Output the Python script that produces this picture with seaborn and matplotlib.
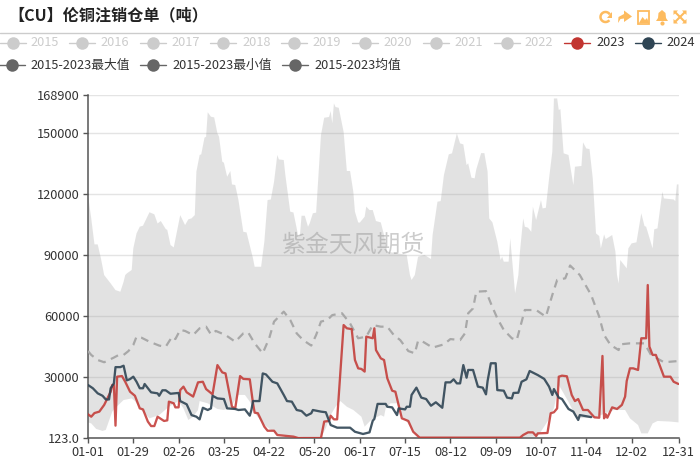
import numpy as np
import pandas as pd
import matplotlib
matplotlib.use("Agg")
import matplotlib.pyplot as plt
from matplotlib.patches import Polygon, Rectangle, Arc
import seaborn as sns

max_days = [0,2,4,6,8,10,14,17,20,22,23,24,27,28,30,32,34,38,41,43,45,48,49,51,53,57,60,62,64,66,67,69,70,72,73,74,76,78,80,81,83,84,86,88,89,91,93,96,98,102,103,107,109,111,113,115,117,118,121,122,125,127,129,130,131,132,134,136,137,139,141,144,146,149,150,151,152,153,155,158,160,162,164,165,167,168,171,172,174,176,178,181,183,185,197,199,200,202,204,208,212,213,216,218,220,223,225,228,230,232,234,235,237,239,240,243,245,247,248,250,253,255,256,257,260,261,263,264,266,267,269,270,272,274,275,277,280,281,283,285,287,288,290,291,292,294,297,298,300,301,305,306,308,310,312,314,316,317,319,320,324,326,327,328,329,333,334,336,339,342,344,345,349,350,352,355,356,362,363,364,365]
max_vals = [119700,108200,95400,95400,88500,80300,76200,72900,72100,77000,80300,81100,82800,93400,100800,104100,104600,111200,110200,105700,106900,103000,102500,95100,93900,109800,104900,107700,108200,109800,131200,139400,139700,147900,148400,160400,158200,157900,150000,148400,136100,135600,128700,131500,124900,124600,117200,101600,101300,88500,84400,84400,96700,117200,117500,126200,139400,137200,136900,129500,111500,111100,103300,99200,100000,109500,109500,104100,105700,110700,111000,149200,157700,158100,161000,155000,164800,163000,162600,150800,131500,131500,121300,111500,106200,106100,109000,114000,112300,112300,106900,106200,100000,91800,90200,80300,77900,80300,89300,90200,88200,100000,116400,116700,129500,139700,140200,150000,145100,144600,134400,135300,128200,127900,132300,140300,140300,131200,108200,106200,96700,87700,89300,86900,86900,98400,80300,71300,80300,91800,108200,104100,103600,101600,113900,107400,117200,113100,113400,127900,141000,167200,167200,161500,162000,140200,139400,134400,124600,133600,134000,145600,142600,142300,127900,100800,99500,93400,100300,98000,100000,91800,80300,76200,87700,83600,93400,95900,96400,110700,104400,104100,93400,102800,103300,121300,118000,117500,116700,124900,124900]

min_days = [0,2,5,9,11,15,17,22,27,29,33,38,44,50,56,59,62,65,68,69,74,80,84,88,93,97,100,104,109,117,127,144,147,150,153,156,160,164,169,171,175,181,183,184,187,191,193,197,201,205,267,278,284,288,291,294,298,302,313,325,332,335,340,342,346,349,352,360,365]
min_vals = [7800,7300,4600,3600,4100,13100,15000,18800,19600,18300,13900,9800,11400,15500,18300,14700,9000,10600,13900,18300,17200,14400,13900,15000,21300,21300,18000,11400,6500,1900,800,300,4900,11400,15500,18300,15500,13900,10600,5700,9000,11400,10600,14700,17200,17200,11400,8200,3200,400,400,900,8200,14700,26200,22100,16400,9800,10100,13900,13900,9800,6500,2400,2400,7300,8500,8200,7800]

mean_days = [0,2,6,10,16,19,22,25,28,30,33,38,44,48,52,54,57,60,65,69,73,76,79,85,91,96,99,103,108,112,115,121,125,129,133,138,141,144,148,151,157,162,167,172,176,181,185,189,193,198,202,204,206,213,220,224,230,233,235,238,240,246,249,253,257,262,265,270,277,283,287,290,295,298,304,311,316,319,323,328,329,335,344,348,356,365]
mean_vals = [42900,41000,38500,37400,39700,41000,41000,42900,45900,50000,49500,47500,45600,45000,50000,48800,53300,52800,50800,54100,54900,51100,52800,50800,47500,51600,52100,46700,41800,49200,57400,62300,58200,51600,48300,45600,50800,57400,58200,60600,61500,56500,49200,50000,55700,54900,54900,50800,48300,42900,41800,47900,48000,44600,46200,48800,48300,51600,61500,63900,72100,72400,66400,59000,53300,49200,48300,63100,63100,59800,70500,77900,78700,85000,80300,70500,59800,50800,45900,43400,46200,46700,46700,41000,37400,38000]

y2023_days = [0,2,4,7,10,14,15,16,17,18,21,23,26,29,32,34,37,39,41,43,47,49,50,53,54,56,57,59,61,65,68,71,73,77,80,83,85,87,89,91,94,96,100,102,103,105,109,111,115,117,127,130,144,146,149,150,152,154,158,160,163,165,167,169,171,172,176,177,178,181,183,185,188,190,194,198,201,205,267,269,272,275,277,278,284,286,288,290,291,293,296,299,301,303,306,309,313,316,318,319,320,321,324,327,330,332,333,335,337,340,342,345,346,347,349,351,356,360,362,365]
y2023_vals = [11800,10600,12400,13100,16400,22900,26200,26200,6200,30300,30600,27800,22900,20900,14700,14200,8200,6000,6000,10600,8500,8800,18000,17200,15200,15200,23700,25400,22600,20500,27500,27800,24200,21600,36000,32400,31900,23700,15500,14700,30600,29200,29000,17200,12600,12300,5700,3700,3700,1600,800,100,100,8200,8500,11100,9300,9300,55700,54100,53700,38500,34400,34100,32800,50000,49200,54100,43400,39300,38500,29500,23400,22900,9800,8500,3200,300,300,1600,2900,2900,1100,2400,2600,12300,12800,14700,30300,30800,30500,21300,18300,19300,13900,13900,10300,10100,40500,9800,11800,10100,15200,14400,16400,20500,28200,34400,34400,33600,49200,49200,75400,45100,41000,41000,30300,30300,27800,26700]

y2024_days = [0,3,6,9,11,13,14,16,17,20,22,24,26,28,30,32,34,35,39,43,44,46,48,51,56,57,61,64,67,69,71,74,76,77,80,84,86,91,93,97,100,101,102,106,108,110,114,117,121,123,126,129,132,135,138,139,144,147,150,154,162,165,170,174,176,177,179,184,185,188,191,192,196,197,199,200,203,206,209,212,215,219,221,224,226,228,230,232,234,235,238,241,244,246,247,249,252,253,257,259,262,263,266,268,271,273,278,282,285,287,288,291,293,297,300,303,304,311]
y2024_vals = [26200,24600,22100,20900,19100,19100,24600,27000,35000,35000,35700,28500,29100,30300,27800,24600,24600,26700,22600,22100,20900,23600,23600,21900,22300,18300,16700,11400,10600,9300,15000,13900,14700,20900,19600,19300,14700,14400,13900,14200,11100,13900,18300,18300,31900,31400,27800,27000,21300,18300,18000,13900,13400,11100,12300,13900,13100,12800,6500,5200,5200,3200,2100,2900,8600,9500,16900,16900,15500,15200,11400,14700,14200,15500,15500,21300,24900,20000,19300,16000,17700,15000,27500,27500,29000,27000,27000,36000,29800,33600,33600,25400,24900,21600,28200,36900,36900,23700,23400,20000,19600,22300,22400,27800,29000,33100,31100,29200,25400,21300,24200,20000,19300,14400,13100,9000,11400,10400]

y_ticks = [123, 30000, 60000, 90000, 120000, 150000, 168900]
y_labels = ["123.0", "30000", "60000", "90000", "120000", "150000", "168900"]
x_ticks = [0, 28, 56, 84, 112, 140, 168, 196, 224, 252, 280, 308, 336, 365]
x_labels = ["01-01","01-29","02-26","03-25","04-22","05-20","06-17","07-15","08-12","09-09","10-07","11-04","12-02","12-31"]
legend_row1 = ["2015","2016","2017","2018","2019","2020","2021","2022","2023","2024"]
legend_row2 = ["2015-2023最大值","2015-2023最小值","2015-2023均值"]

sns.set_theme(style="white")
plt.rcParams['font.family'] = ['Noto Sans CJK SC', 'DejaVu Sans']

W, H = 700, 466
fig = plt.figure(figsize=(7, 4.66), dpi=100)
ax = fig.add_axes([88/W, 1-438/H, 590.5/W, 343/H])

# band between the historic minimum and maximum
ax.fill(list(max_days) + list(min_days[::-1]), list(max_vals) + list(min_vals[::-1]),
        color="#9a9a9a", alpha=0.28, lw=0, zorder=2)

def series(days, vals):
    return pd.DataFrame({"day": days, "value": vals})

sns.lineplot(data=series(mean_days, mean_vals), x="day", y="value", ax=ax, estimator=None, sort=False,
             color="#a8a8a8", lw=1.6, linestyle=(0, (3.6, 2.6)), zorder=3)
sns.lineplot(data=series(y2023_days, y2023_vals), x="day", y="value", ax=ax, estimator=None, sort=False,
             color="#c23531", alpha=0.85, lw=1.65, zorder=4)
sns.lineplot(data=series(y2024_days, y2024_vals), x="day", y="value", ax=ax, estimator=None, sort=False,
             color="#2f4554", alpha=0.9, lw=1.65, zorder=5)

ax.set_xlim(0, 365)
ax.set_ylim(123, 168900)
ax.set_xlabel("")
ax.set_ylabel("")
ax.set_xticks(x_ticks)
ax.set_xticklabels(x_labels)
ax.set_yticks(y_ticks)
ax.set_yticklabels(y_labels)
ax.grid(axis="y", color="#e4e4e4", lw=1.0, zorder=1)
ax.set_axisbelow(True)
ax.tick_params(axis="both", length=3.6, width=1.0, color="#555555", labelcolor="#333333",
               labelsize=9.2, pad=2.5, bottom=True, left=True)
for s in ("top", "right"):
    ax.spines[s].set_visible(False)
for s in ("left", "bottom"):
    ax.spines[s].set_color("#555555")
    ax.spines[s].set_linewidth(1.1)

# overlay in image space for header, legend and toolbar
ov = fig.add_axes([0, 0, 1, 1], zorder=10)
ov.set_xlim(0, W)
ov.set_ylim(H, 0)
ov.axis("off")
ov.patch.set_alpha(0)

ov.text(8, 15.5, "【CU】伦铜注销仓单（吨）", fontsize=11.6, fontweight="bold", color="#222222",
        va="center", ha="left")
ov.plot([0, W], [32.5, 32.5], color="#cccccc", lw=1.0)

row1_marker = [12.5, 82, 153, 223, 294, 365, 436, 507, 577, 648]
row1_text = [30, 100, 171, 242, 312, 383, 454, 524, 596, 666]
row1_col = ["#cccccc"] * 8 + ["#c23531", "#2f4554"]
for m, t, lab, c in zip(row1_marker, row1_text, legend_row1, row1_col):
    ov.plot([m-13, m+13], [43, 43], color=c, lw=1.0)
    ov.plot([m], [43], "o", color=c, ms=9, mew=0)
    ov.text(t, 43, lab, fontsize=9.2, va="center", ha="left", color="#cccccc" if c == "#cccccc" else "#333333")
for m, t, lab in zip([12, 153, 295], [30, 172, 314], legend_row2):
    ov.plot([m-13, m+13], [65, 65], color="#666666", lw=1.0)
    ov.plot([m], [65], "o", color="#666666", ms=9, mew=0)
    ov.text(t, 65, lab, fontsize=9.2, va="center", ha="left", color="#333333")

ov.text(353, 245, "紫金天风期货", fontsize=17.2, color="#9a9a9a", alpha=0.5, ha="center", va="center",
        zorder=6)

# toolbar
ic = "#fdbb5f"
ov.add_patch(Arc((605.5, 17), 10, 10, theta1=40, theta2=330, ec=ic, lw=1.8))
ov.add_patch(Polygon([[606.5, 17.5], [612, 17.5], [612, 11.5]], fc=ic, ec="none"))
ov.add_patch(Polygon([[618, 23], [618.5, 17], [624, 14], [624, 10.5], [632, 16.5], [624, 22], [624, 18.5], [620.5, 19]], fc=ic, ec="none"))
ov.add_patch(Rectangle((638, 10.5), 11, 13, fc="none", ec=ic, lw=1.3))
ov.add_patch(Polygon([[639, 23], [642.5, 17], [645, 20], [647, 18], [649, 23]], fc=ic, ec="none"))
ov.add_patch(Polygon([[656, 21], [658, 18], [658.5, 13], [662, 10], [665.5, 13], [666, 18], [668, 21]], fc=ic, ec="none"))
ov.plot([662], [22.5], "o", color=ic, ms=3, mew=0)
for sx, sy in [(-1, -1), (1, -1), (-1, 1), (1, 1)]:
    ov.plot([680, 680+sx*5], [17, 17+sy*5], color=ic, lw=1.5)
    ov.add_patch(Polygon([[680+sx*6.5, 17+sy*6.5], [680+sx*2, 17+sy*6.5], [680+sx*6.5, 17+sy*2]], fc=ic, ec="none"))

fig.savefig("out.png", dpi=100)
